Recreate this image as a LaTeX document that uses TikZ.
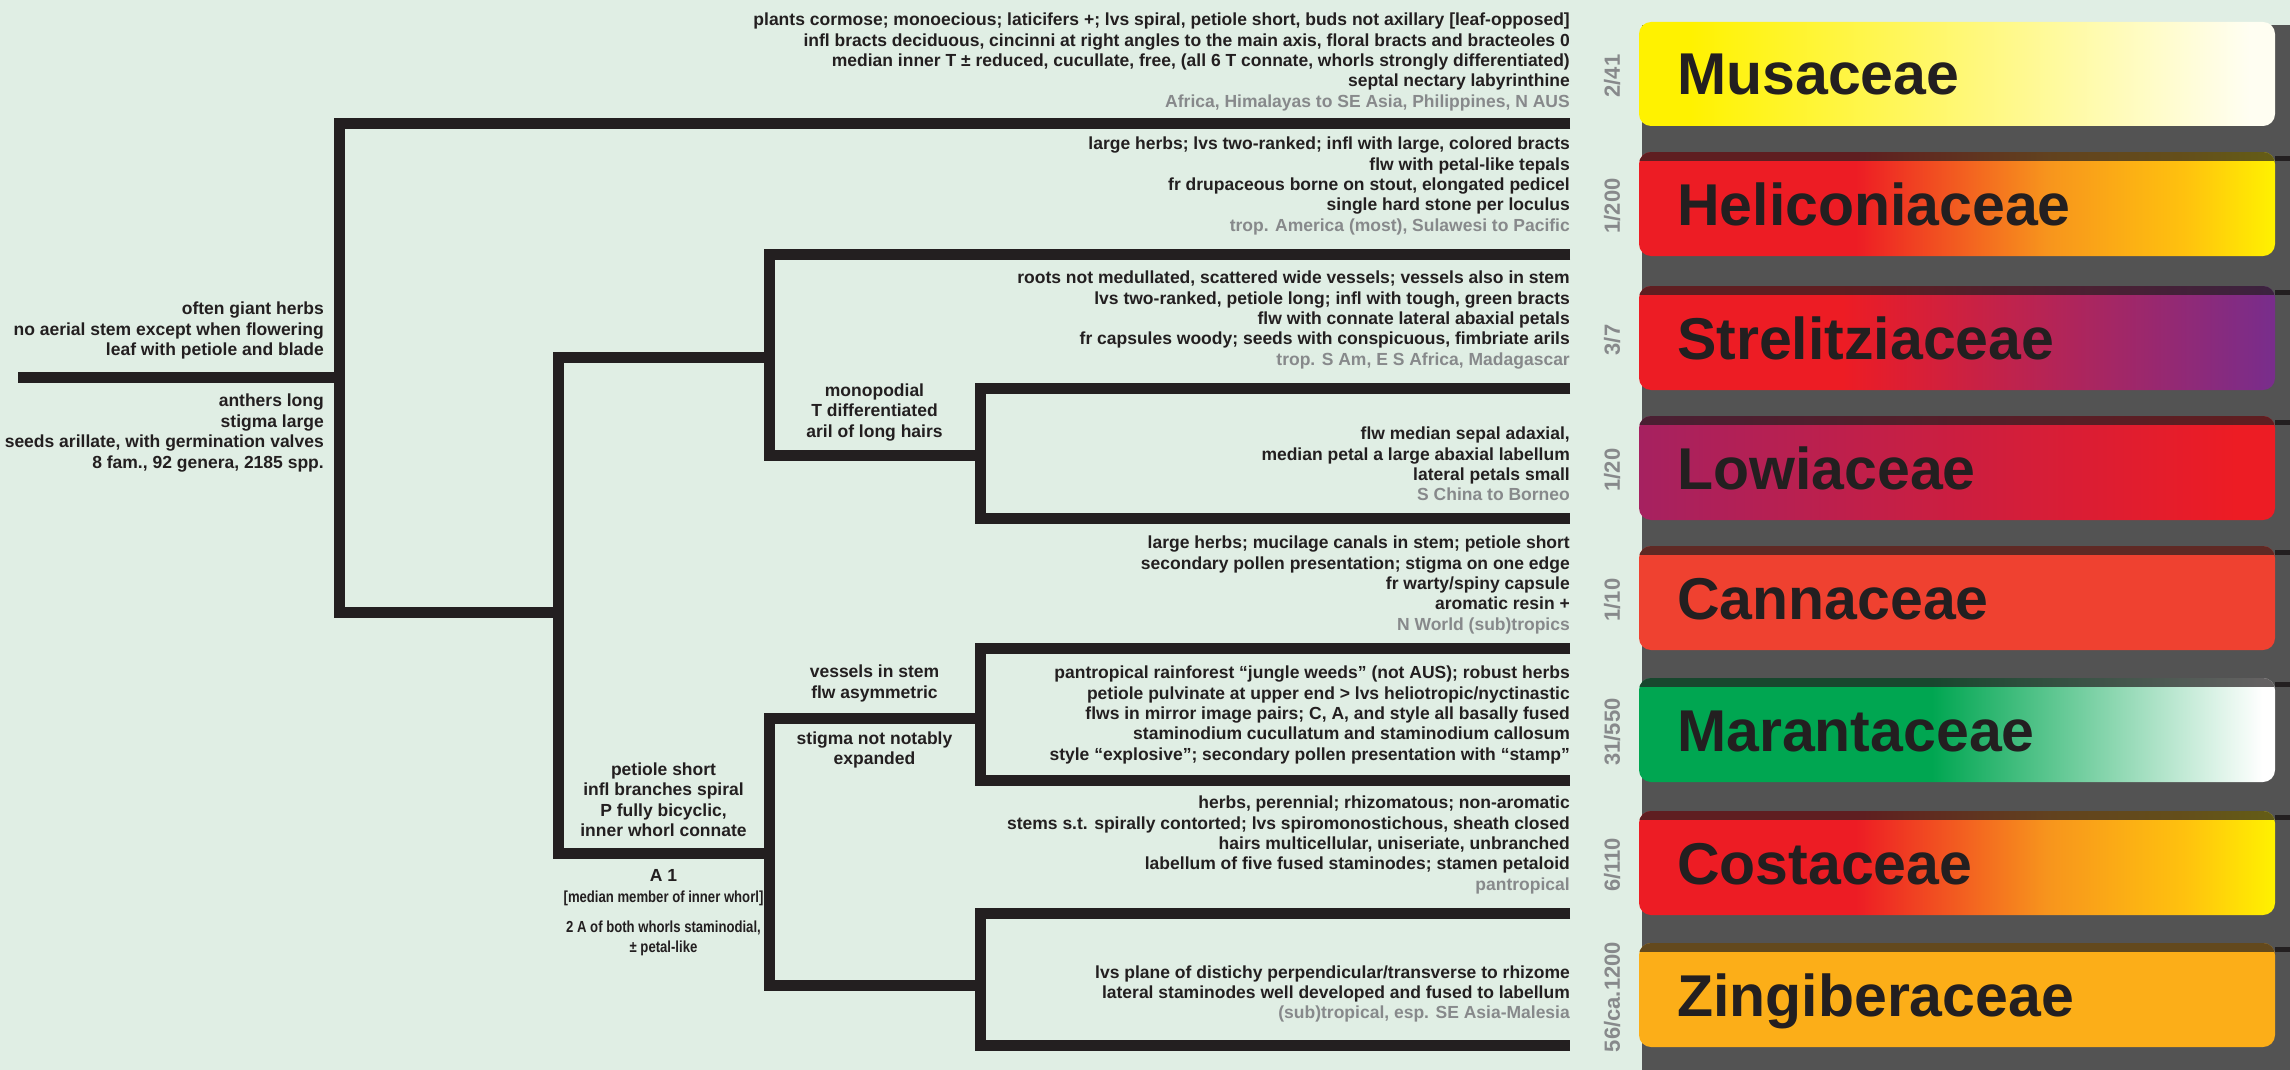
\documentclass[tikz,border=0pt]{standalone}
\usepackage{fontspec}
\setmainfont{Liberation Sans}
\newfontfamily\narrowfont[FakeStretch=0.82]{Liberation Sans}
\newcommand\narrowlab{\narrowfont\fontsize{16}{20}\selectfont}
\usetikzlibrary{positioning,calc}

\definecolor{paper}{RGB}{224,238,228}
\definecolor{ink}{RGB}{35,31,32}
\definecolor{panel}{RGB}{83,83,83}
\definecolor{dist}{RGB}{135,137,139}
\definecolor{musyel}{RGB}{255,242,0}
\definecolor{muscream}{RGB}{255,254,242}
\definecolor{hred}{RGB}{237,28,36}
\definecolor{horange}{RGB}{247,148,29}
\definecolor{hgold}{RGB}{255,194,14}
\definecolor{spurple}{RGB}{120,45,140}
\definecolor{lmagenta}{RGB}{166,33,96}
\definecolor{cred}{RGB}{239,65,48}
\definecolor{mgreen}{RGB}{0,166,81}
\definecolor{zorange}{RGB}{252,174,24}

\pgfdeclarehorizontalshading{musa}{100bp}{color(0bp)=(musyel); color(29bp)=(musyel); color(73bp)=(muscream); color(100bp)=(muscream)}
\pgfdeclarehorizontalshading{helico}{100bp}{color(0bp)=(hred); color(42bp)=(hred); color(57bp)=(horange); color(68bp)=(hgold); color(75bp)=(musyel); color(100bp)=(musyel)}
\pgfdeclarehorizontalshading{strel}{100bp}{color(0bp)=(hred); color(41bp)=(hred); color(75bp)=(spurple); color(100bp)=(spurple)}
\pgfdeclarehorizontalshading{lowi}{100bp}{color(0bp)=(lmagenta); color(25bp)=(lmagenta); color(72bp)=(hred); color(100bp)=(hred)}
\pgfdeclarehorizontalshading{canna}{100bp}{color(0bp)=(cred); color(100bp)=(cred)}
\pgfdeclarehorizontalshading{maranta}{100bp}{color(0bp)=(mgreen); color(48bp)=(mgreen); color(74bp)=(white); color(100bp)=(white)}
\pgfdeclarehorizontalshading{zingi}{100bp}{color(0bp)=(zorange); color(100bp)=(zorange)}

\begin{document}
\begin{tikzpicture}[x=1pt,y=-1pt,
 font=\fontsize{17.5}{20.4}\selectfont\bfseries,
 branch/.style={draw=ink,line width=11pt,line join=miter},
 tiptext/.style={anchor=east,align=right,inner sep=0pt,text=ink},
 lab/.style={align=center,inner sep=0pt,text=ink},
 bar/.style={rounded corners=12pt},
 fam/.style={anchor=base west,inner sep=0pt,text=ink,font=\fontsize{59}{60}\selectfont\bfseries},
 cnt/.style={rotate=90,inner sep=0pt,text=dist,font=\fontsize{22}{24}\selectfont\bfseries}]
\useasboundingbox (0,0) rectangle (2290,1070);
\fill[paper] (0,0) rectangle (2290,1070);
\fill[panel] (1642,25) rectangle (2290,1070);

% family bars
\foreach \y/\sh/\fam/\cnt in {124/musa/Musaceae/{2/41},254/helico/Heliconiaceae/{1/200},
  388/strel/Strelitziaceae/{3/7},518/lowi/Lowiaceae/{1/20},648/canna/Cannaceae/{1/10},
  780/maranta/Marantaceae/{31/550},913/helico/Costaceae/{6/110},1045/zingi/Zingiberaceae/{56/ca.1200}}{
  \shade[bar,shading=\sh] (1639,\y-102) rectangle (2275,\y+2);
  \node[fam] (f\y) at (1677,\y-29) {\fam};
  \node[cnt] (c\y) at (1612,\y-48) {\cnt};
}
\foreach \y in {254,388,518,648,780,913,1045}{
  \begin{scope}
    \clip[bar] (1639,\y-102) rectangle (2275,\y+2);
    \fill[ink,opacity=.7] (1639,\y-103) rectangle (2275,\y-93);
  \end{scope}
  \fill[ink] (2275,\y-98) rectangle (2290,\y-93);
}

% tree
\coordinate (root) at (18,377);
\coordinate (n0) at (339,377);
\coordinate (nA) at (558,612);
\coordinate (nB) at (769,357);
\coordinate (nC) at (769,853);
\coordinate (nD) at (980,455);
\coordinate (nE) at (980,718);
\coordinate (nF) at (980,985);
\foreach \t/\y in {mus/124,hel/254,str/388,low/518,can/648,mar/780,cos/913,zin/1045}
  \coordinate (\t) at (1570,\y);
\draw[branch] (root) -- (n0);
\draw[branch] (mus) -| (n0) |- (nA);
\draw[branch] (nB) -| (nA) |- (nC);
\draw[branch] (hel) -| (nB) |- (nD);
\draw[branch] (str) -| (nD) |- (low);
\draw[branch] (nE) -| (nC) |- (nF);
\draw[branch] (can) -| (nE) |- (mar);
\draw[branch] (cos) -| (nF) |- (zin);
\coordinate (mC) at ($(nA|-nC)!.5!(nC)$);
\coordinate (mD) at ($(nB|-nD)!.5!(nD)$);
\coordinate (mE) at ($(nC|-nE)!.5!(nE)$);

% node characters
\node[lab,align=right,above left=17.5pt and 15pt of n0] (rootup) {often giant herbs\\no aerial stem except when flowering\\leaf with petiole and blade};
\node[lab,align=right,below left=17pt and 15pt of n0] (rootdn) {anthers long\\stigma large\\seeds arillate, with germination valves\\8 fam., 92 genera, 2185 spp.};
\node[lab,above=14pt of mD] (labD) {monopodial\\T differentiated\\aril of long hairs};
\node[lab,above=16pt of mE] (labEup) {vessels in stem\\flw asymmetric};
\node[lab,below=13.5pt of mE] (labEdn) {stigma not notably\\expanded};
\node[lab,above=16pt of mC] (labCup) {petiole short\\infl branches spiral\\P fully bicyclic,\\inner whorl connate};
\node[lab,below=16.5pt of mC] (labCdn) {A 1\\{\narrowlab [median member of inner whorl]}\\[9.6pt]{\narrowlab 2 A of both whorls staminodial,}\\{\narrowlab ± petal-like}};

% family characters
\node[tiptext] (tmus) at (1570,62) {plants cormose; monoecious; laticifers +; lvs spiral, petiole short, buds not axillary [leaf-opposed]\\infl bracts deciduous, cincinni at right angles to the main axis, floral bracts and bracteoles 0\\median inner T ± reduced, cucullate, free, (all 6 T connate, whorls strongly differentiated)\\septal nectary labyrinthine\\\textcolor{dist}{Africa, Himalayas to SE Asia, Philippines, N AUS}};
\node[tiptext] (thel) at (1570,186) {large herbs; lvs two-ranked; infl with large, colored bracts\\flw with petal-like tepals\\fr drupaceous borne on stout, elongated pedicel\\single hard stone per loculus\\\textcolor{dist}{trop. America (most), Sulawesi to Pacific}};
\node[tiptext] (tstr) at (1570,320) {roots not medullated, scattered wide vessels; vessels also in stem\\lvs two-ranked, petiole long; infl with tough, green bracts\\flw with connate lateral abaxial petals\\fr capsules woody; seeds with conspicuous, fimbriate arils\\\textcolor{dist}{trop. S Am, E S Africa, Madagascar}};
\node[tiptext] (tlow) at (1570,464) {flw median sepal adaxial,\\median petal a large abaxial labellum\\lateral petals small\\\textcolor{dist}{S China to Borneo}};
\node[tiptext] (tcan) at (1570,585) {large herbs; mucilage canals in stem; petiole short\\secondary pollen presentation; stigma on one edge\\fr warty/spiny capsule\\aromatic resin +\\\textcolor{dist}{N World (sub)tropics}};
\node[tiptext] (tmar) at (1570,715) {pantropical rainforest “jungle weeds” (not AUS); robust herbs\\petiole pulvinate at upper end > lvs heliotropic/nyctinastic\\flws in mirror image pairs; C, A, and style all basally fused\\staminodium cucullatum and staminodium callosum\\style “explosive”; secondary pollen presentation with “stamp”};
\node[tiptext] (tcos) at (1570,845) {herbs, perennial; rhizomatous; non-aromatic\\stems s.t. spirally contorted; lvs spiromonostichous, sheath closed\\hairs multicellular, uniseriate, unbranched\\labellum of five fused staminodes; stamen petaloid\\\textcolor{dist}{pantropical}};
\node[tiptext] (tzin) at (1570,994) {lvs plane of distichy perpendicular/transverse to rhizome\\lateral staminodes well developed and fused to labellum\\\textcolor{dist}{(sub)tropical, esp. SE Asia-Malesia}};
\end{tikzpicture}
\end{document}
